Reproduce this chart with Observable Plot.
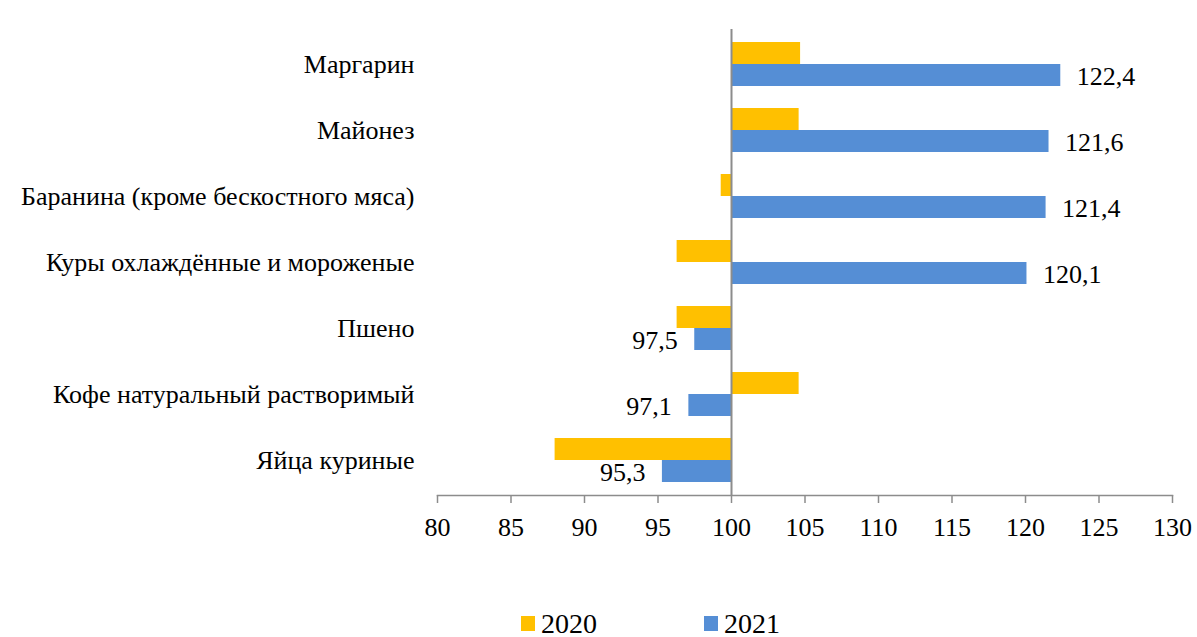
<!DOCTYPE html>
<html><head><meta charset="utf-8">
<script src="https://cdn.jsdelivr.net/npm/d3@7"></script>
<script src="https://cdn.jsdelivr.net/npm/@observablehq/plot@0.6"></script>
<style>
body{margin:0;background:#fff;font-family:"Liberation Serif","DejaVu Serif","Noto Serif","Times New Roman",Times,serif;}
#legend{height:77px;display:flex;align-items:center;padding-left:521px;box-sizing:border-box;padding-top:50px;}
.item{display:flex;align-items:center;font-size:28px;color:#000;line-height:28px;}
.sw{width:14px;height:15px;margin-right:6px;}
.item + .item{margin-left:107px;}
</style></head><body><div id="chart"></div><div id="legend"></div><script>
const categories = ["Маргарин","Майонез","Баранина (кроме бескостного мяса)","Куры охлаждённые и мороженые","Пшено","Кофе натуральный растворимый","Яйца куриные"];
const values2020 = [104.7,104.6,99.3,96.3,96.3,104.6,88.0];
const values2021 = [122.4,121.6,121.4,120.1,97.5,97.1,95.3];
const seriesNames = ["2020","2021"];
const seriesColors = ["#FFC000","#558ED5"];
const xTicks = [80,85,90,95,100,105,110,115,120,125,130];
const baseline = 100;

const rows2020 = categories.map((c,i)=>({cat:c, series:"2020", value:values2020[i]}));
const rows2021 = categories.map((c,i)=>({cat:c, series:"2021", value:values2021[i]}));
const fmt = v => v.toFixed(1).replace(".", ",");
const FONT = '"Liberation Serif","DejaVu Serif","Noto Serif","Times New Roman",Times,serif';

const chart = Plot.plot({
  width:1197, height:560,
  marginLeft:437, marginRight:25, marginTop:29, marginBottom:65,
  style:{fontFamily:FONT, fontSize:"26px", color:"#000", background:"#fff"},
  x:{domain:[80,130]},
  y:{domain:categories, paddingInner:0.34, paddingOuter:0.17},
  color:{domain:seriesNames, range:seriesColors},
  marks:[
    Plot.barX(rows2020,{y:"cat", x1:baseline, x2:"value", fill:"series", insetBottom:22}),
    Plot.barX(rows2021,{y:"cat", x1:baseline, x2:"value", fill:"series", insetTop:22}),
    Plot.text(rows2021.filter(d=>d.value>=baseline),{y:"cat", x:"value", text:d=>fmt(d.value), textAnchor:"start", dx:16, dy:12, fill:"#000", fontSize:26}),
    Plot.text(rows2021.filter(d=>d.value<baseline),{y:"cat", x:"value", text:d=>fmt(d.value), textAnchor:"end", dx:-17, dy:12, fill:"#000", fontSize:26}),
    Plot.ruleX([baseline],{stroke:"#8c8c8c", strokeWidth:2}),
    Plot.frame({anchor:"bottom", stroke:"#8c8c8c", strokeWidth:1.5}),
    Plot.axisX({ticks:xTicks, tickSize:8, tickPadding:14, label:null, stroke:"#8c8c8c", strokeWidth:1.5, fill:"#000"}),
    Plot.axisY({tickSize:0, tickPadding:23, label:null, fill:"#000"})
  ]
});
document.getElementById("chart").appendChild(chart);

const lg = document.getElementById("legend");
seriesNames.forEach((s,i)=>{
  const it = document.createElement("div"); it.className="item";
  const sw = document.createElement("span"); sw.className="sw"; sw.style.background=seriesColors[i];
  it.appendChild(sw); it.appendChild(document.createTextNode(s));
  lg.appendChild(it);
});
</script></body></html>
